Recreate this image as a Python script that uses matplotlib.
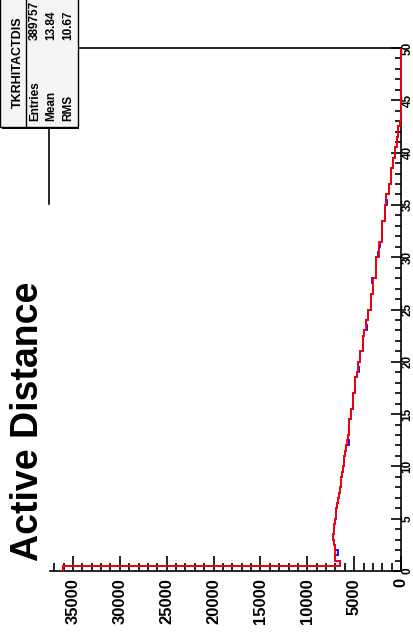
import numpy as np
import matplotlib.pyplot as plt
from matplotlib.patches import Rectangle
from matplotlib.lines import Line2D
from matplotlib.ticker import MultipleLocator

plt.rcParams['font.family'] = ['Liberation Sans', 'DejaVu Sans']

# TKRHITACTDIS, 100 bins of 0.5 from 0 to 50
edges = np.linspace(0, 50, 101)
counts = [36080, 6460, 7000, 7000, 7050, 7150, 7250, 7200, 7100, 7050,
          6950, 6900, 6800, 6750, 6600, 6550, 6450, 6380, 6280, 6200,
          6100, 6030, 5930, 5850, 5750, 5680, 5600, 5500, 5500, 5290,
          5290, 5100, 5100, 5100, 4860, 4860, 4860, 4700, 4610, 4610,
          4330, 4330, 4080, 4080, 4080, 3900, 3720, 3720, 3500, 3500,
          3180, 3180, 3180, 2970, 2970, 2970, 2650, 2650, 2650, 2650,
          2370, 2370, 2370, 2010, 2010, 2010, 2010, 1760, 1760, 1760,
          1550, 1550, 1300, 1300, 1120, 1120, 1120, 880, 880, 660,
          660, 480, 480, 300, 300, 160, 50, 50, 50, 0,
          0, 0, 0, 0, 0, 0, 0, 0, 0, 0]

# second copy (blue) differs in a few bins only
blue_bins = [3, 24, 38, 46, 55, 60, 62, 70, 74]
blue_vals = [6750, 5600, 4480, 3600, 3100, 2500, 2200, 1450, 1020]

stats_name = "TKRHITACTDIS"
stats_rows = [("Entries", "389757"), ("Mean", "13.84"), ("RMS", "10.67")]

W, H = 414, 640
fig = plt.figure(figsize=(W / 100, H / 100), dpi=100)
fig.patch.set_facecolor('white')

def fx(px):
    return px / W

def fy(py):
    return 1 - py / H

ax = fig.add_axes([fx(49.5), fy(571), fx(401) - fx(49.5), fy(48) - fy(571)])

blue = list(counts)
for b, v in zip(blue_bins, blue_vals):
    blue[b] = v

ax.stairs(blue, edges, orientation='horizontal', baseline=None,
          color='#0000ff', lw=1.3, zorder=3, clip_on=False)
ax.stairs(counts, edges, orientation='horizontal', baseline=None,
          color='#ff0000', lw=1.3, zorder=3.1, clip_on=False)

ax.set_xlim(37500, 0)
ax.set_ylim(0, 50)

ax.xaxis.set_major_locator(MultipleLocator(5000))
ax.xaxis.set_minor_locator(MultipleLocator(1000))
ax.yaxis.set_major_locator(MultipleLocator(5))
ax.yaxis.set_minor_locator(MultipleLocator(1))

ax.yaxis.tick_right()
ax.tick_params(axis='x', which='both', direction='in', top=False, bottom=True,
               labelrotation=90, labelsize=12, pad=5, width=1.2)
ax.tick_params(axis='x', which='major', length=11)
ax.tick_params(axis='x', which='minor', length=6)
ax.tick_params(axis='y', which='both', direction='in', left=False, right=True,
               labelleft=False, labelright=True, labelrotation=90,
               labelsize=8.5, pad=0.5, width=1.2)
ax.tick_params(axis='y', which='major', length=7.5)
ax.tick_params(axis='y', which='minor', length=4)
for lab in ax.get_xticklabels() + ax.get_yticklabels():
    lab.set_fontweight('bold')
for lab in ax.get_yticklabels():
    lab.set_va('center')

for s in ax.spines.values():
    s.set_linewidth(1.2)
# title pave hides most of the upper frame edge
ax.spines['left'].set_bounds(35.1, 42.5)

fig.text(fx(28), fy(421), "Active Distance", rotation=90, fontsize=27,
         fontweight='bold', ha='center', va='center')

# stats box
fig.patches.append(Rectangle((fx(2), fy(129)), fx(79) - fx(2), fy(-6) - fy(129),
                             transform=fig.transFigure, facecolor='black',
                             edgecolor='none', zorder=5))
fig.patches.append(Rectangle((fx(0), fy(127)), fx(78), fy(-6) - fy(127),
                             transform=fig.transFigure, facecolor='#f4f4f4',
                             edgecolor='black', lw=1.0, zorder=6))
fig.lines.append(Line2D([fx(26), fx(26)], [fy(127), fy(0)],
                        transform=fig.transFigure, color='black', lw=1.0, zorder=7))
fig.text(fx(18), fy(62), stats_name, rotation=90, fontsize=9, fontweight='bold',
         ha='center', va='center', zorder=8)
for i, (name, val) in enumerate(stats_rows):
    xc = fx(35 + 16.5 * i)
    fig.text(xc, fy(121), name, rotation=90, fontsize=8.5, fontweight='bold',
             ha='center', va='bottom', zorder=8)
    fig.text(xc, fy(40), val, rotation=90, fontsize=8.5, fontweight='bold',
             ha='center', va='bottom', zorder=8)

fig.savefig("out.png", dpi=100)
